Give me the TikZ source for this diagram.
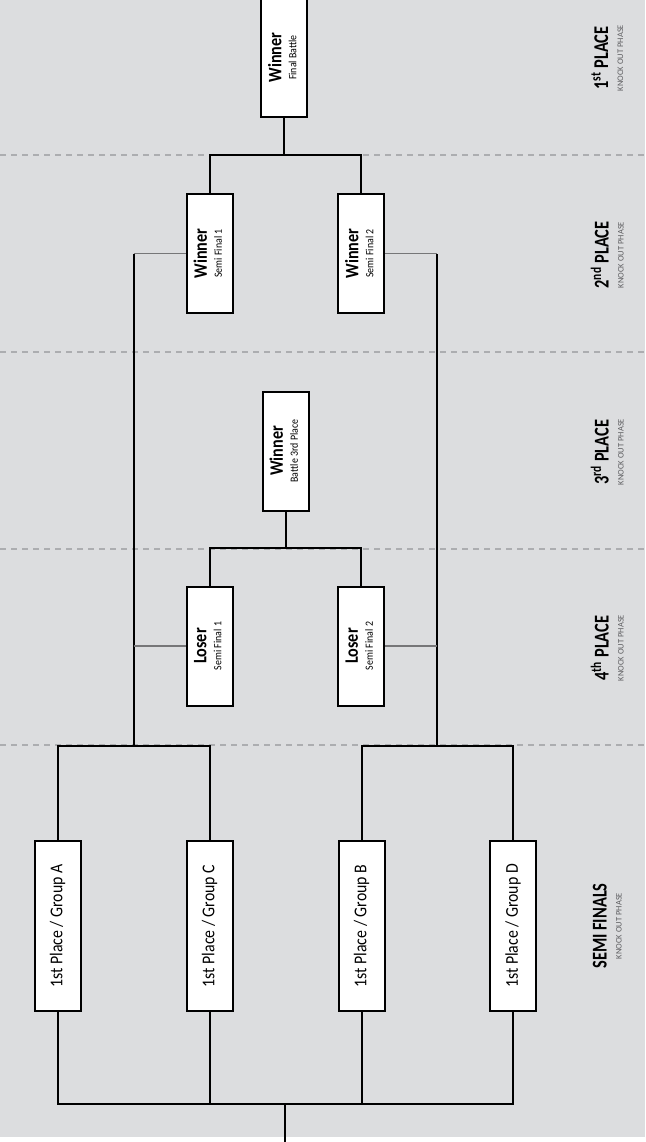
\documentclass[tikz,border=0pt]{standalone}
\usepackage{fontspec}
\setmainfont{Carlito}
\newfontfamily\groupfamily[FakeStretch=0.88]{Carlito}
\newfontfamily\winfamily[FakeStretch=0.85]{Carlito}
\newfontfamily\subfamily[FakeStretch=0.9]{Carlito}
\newfontfamily\stagefamily[FakeStretch=0.78]{Carlito}

\definecolor{bg}{RGB}{220,221,223}
\definecolor{sep}{RGB}{172,173,176}
\definecolor{link}{RGB}{118,118,120}
\definecolor{note}{RGB}{95,95,98}

% two-line caption set upright, then turned to read bottom-to-top
\newcommand\matchtext[2]{\rotatebox{90}{\begin{tabular}{@{}c@{}}%
  {\fontsize{19}{20}\winfamily\bfseries #1}\\[3pt]%
  {\fontsize{11}{13}\subfamily #2}\end{tabular}}}
\newcommand\grouptext[1]{\rotatebox{90}{\fontsize{18}{20}\groupfamily #1}}
\newcommand\stagetext[1]{\rotatebox{90}{\begin{tabular}{@{}c@{}}%
  {\fontsize{21}{22}\stagefamily\bfseries #1}\\[3pt]%
  {\fontsize{8.5}{9}\selectfont\color{note}KNOCK OUT PHASE}\end{tabular}}}

\tikzset{
  box/.style={draw=black, line width=2pt, fill=white, inner sep=0pt, minimum width=46pt},
  matchbox/.style={box, minimum height=119pt},
  groupbox/.style={box, minimum height=170pt},
  wire/.style={line width=2pt, black},
  feed/.style={line width=1.4pt, link},
  sepline/.style={sep, line width=1.3pt, dash pattern=on 6pt off 5pt},
  stage/.style={inner sep=0pt}
}

\begin{document}
\begin{tikzpicture}[x=1pt, y=-1pt]
\useasboundingbox (0,0) rectangle (645,1142);
\fill[white] (0,0) rectangle (645,1142);
\fill[bg] (0,0) rectangle (645,1137);

% phase separators
\foreach \yy in {155,352,549,745}
  \draw[sepline] (0,\yy) -- (645,\yy);

% phase titles
\node[stage] (t1) at (609,58)  {\stagetext{1\textsuperscript{st} PLACE}};
\node[stage] (t2) at (609,255) {\stagetext{2\textsuperscript{nd} PLACE}};
\node[stage] (t3) at (609,452) {\stagetext{3\textsuperscript{rd} PLACE}};
\node[stage] (t4) at (609,648) {\stagetext{4\textsuperscript{th} PLACE}};
\node[stage] (t5) at (609,926) {\stagetext{SEMI FINALS}};

% junction points
\coordinate (jAC) at (133.5,746);
\coordinate (jBD) at (437,746);
\coordinate (jW)  at (284,155);
\coordinate (jL)  at (285.5,548);
\coordinate (jG)  at (285,1104);
\coordinate (root) at (285,1142);

% match boxes
\node[matchbox] (fin) at (284,57.5)   {\matchtext{Winner}{Final Battle}};
\node[matchbox] (w1)  at (209.5,253.5) {\matchtext{Winner}{Semi Final 1}};
\node[matchbox] (w2)  at (361,253.5)   {\matchtext{Winner}{Semi Final 2}};
\node[matchbox] (w3)  at (285.5,451)   {\matchtext{Winner}{Battle 3rd Place}};
\node[matchbox] (l1)  at (209.5,646)   {\matchtext{Loser}{Semi Final 1}};
\node[matchbox] (l2)  at (361,646)     {\matchtext{Loser}{Semi Final 2}};

\node[groupbox] (gA) at (57.5,926)  {\grouptext{1st Place / Group A}};
\node[groupbox] (gC) at (209.5,926) {\grouptext{1st Place / Group C}};
\node[groupbox] (gB) at (361.5,926) {\grouptext{1st Place / Group B}};
\node[groupbox] (gD) at (513,926)   {\grouptext{1st Place / Group D}};

% group stage into the two semi finals
\draw[wire] (gA.south) |- (jG) -| (gD.south);
\draw[wire] (gC.south) -- (gC.south |- jG);
\draw[wire] (gB.south) -- (gB.south |- jG);
\draw[wire] (jG) -- (root);

\draw[wire] (gA.north) |- (jAC) -| (gC.north);
\draw[wire] (gB.north) |- (jBD) -| (gD.north);
\draw[wire] (jAC) -- (jAC |- w1.west);
\draw[wire] (jBD) -- (jBD |- w2.east);

% semi final outcomes
\draw[feed] (jAC |- w1.west) -- (w1.west);
\draw[feed] (jAC |- l1.west) -- (l1.west);
\draw[feed] (jBD |- w2.east) -- (w2.east);
\draw[feed] (jBD |- l2.east) -- (l2.east);

% final and third-place battles
\draw[wire] (w1.north) |- (jW) -| (w2.north);
\draw[wire] (jW) -- (fin.south);
\draw[wire] (l1.north) |- (jL) -| (l2.north);
\draw[wire] (jL) -- (w3.south);
\end{tikzpicture}
\end{document}
